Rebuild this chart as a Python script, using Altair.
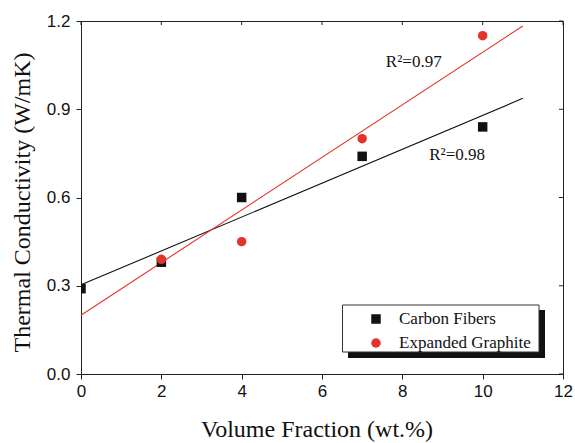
import altair as alt
import pandas as pd

# ---- data ----
cf_x = [0, 2, 4, 7, 10]
cf_y = [0.29, 0.38, 0.60, 0.74, 0.84]
eg_x = [2, 4, 7, 10]
eg_y = [0.39, 0.45, 0.80, 1.15]

fit_x = [0, 11]
fit_cf = [0.303, 0.937]
fit_eg = [0.200, 1.183]

series = ["Carbon Fibers", "Expanded Graphite"]
colors = ["#111111", "#e3342b"]
shapes = ["square", "circle"]

ann_text = ["R\u00b2=0.97", "R\u00b2=0.98"]
ann_x = [7.59, 8.67]
ann_y = [1.045, 0.727]

x_ticks = [0, 2, 4, 6, 8, 10, 12]
y_ticks = [0.0, 0.3, 0.6, 0.9, 1.2]

W, H = 482, 353
SERIF = "Liberation Serif"
SANS = "Liberation Sans"

pts = pd.DataFrame(
    {"x": cf_x + eg_x, "y": cf_y + eg_y,
     "s": [series[0]] * len(cf_x) + [series[1]] * len(eg_x)}
)
fits = pd.DataFrame(
    {"x": fit_x + fit_x, "y": fit_cf + fit_eg,
     "s": [series[0]] * 2 + [series[1]] * 2}
)
ann = pd.DataFrame({"t": ann_text, "x": ann_x, "y": ann_y})
xt = pd.DataFrame({"x": x_ticks})
yt = pd.DataFrame({"y": y_ticks})

X = alt.X(
    "x:Q",
    scale=alt.Scale(domain=[0, 12], nice=False, zero=False),
    axis=alt.Axis(
        values=x_ticks, title="Volume Fraction (wt.%)", grid=False,
        tickSize=5, labelPadding=4, labelFont=SANS, labelFontSize=17,
        labelColor="#111", titleFont=SERIF, titleFontSize=24,
        titleFontWeight="normal", titleColor="#111",
        titleX=235.5, titleY=62, titleBaseline="alphabetic",
        domainColor="#222", tickColor="#222", labelFlush=False,
    ),
)
Y = alt.Y(
    "y:Q",
    scale=alt.Scale(domain=[0, 1.2], nice=False, zero=False),
    axis=alt.Axis(
        values=y_ticks, format=".1f", title="Thermal Conductivity (W/mK)",
        grid=False, tickSize=5, labelPadding=6, labelFont=SANS,
        labelFontSize=17, labelColor="#111", titleFont=SERIF,
        titleFontSize=24, titleFontWeight="normal", titleColor="#111",
        titleX=-52, titleY=181, titleBaseline="alphabetic",
        domainColor="#222", tickColor="#222", labelFlush=False,
    ),
)

leg = alt.Legend(
    orient="none", legendX=286.5, legendY=289.5, padding=0, title=None,
    labelFont=SERIF, labelFontSize=17, labelColor="#111",
    labelOffset=14.5, rowPadding=6, symbolSize=90, symbolStrokeWidth=0,
    zindex=5,
)
color = alt.Color("s:N", scale=alt.Scale(domain=series, range=colors), legend=leg)
shape = alt.Shape("s:N", scale=alt.Scale(domain=series, range=shapes), legend=leg)

one = alt.Data(values=[{"a": 1}])

shadow = alt.Chart(one).mark_rect(color="#111").encode(
    x=alt.value(267), x2=alt.value(464), y=alt.value(289), y2=alt.value(337)
)
box = alt.Chart(one).mark_rect(fill="white", stroke="#333", strokeWidth=1).encode(
    x=alt.value(261.5), x2=alt.value(458), y=alt.value(284), y2=alt.value(331)
)

lines = alt.Chart(fits).mark_line(strokeWidth=1.1).encode(
    x=X, y=Y, color=color, detail="s:N",
)

points = alt.Chart(pts).mark_point(filled=True, opacity=1, size=90, clip=True).encode(
    x=X, y=Y, color=color, shape=shape
)

texts = alt.Chart(ann).mark_text(
    align="left", baseline="alphabetic", font=SERIF, fontSize=17, color="#111"
).encode(x=X, y=Y, text="t:N")

top_ticks = alt.Chart(xt).mark_rule(color="#222", strokeWidth=1).encode(
    x=X, y=alt.value(0), y2=alt.value(4)
)
right_ticks = alt.Chart(yt).mark_rule(color="#222", strokeWidth=1).encode(
    y=Y, x=alt.value(W - 4), x2=alt.value(W)
)

chart = (
    alt.layer(shadow, box, lines, points, texts, top_ticks, right_ticks)
    .resolve_scale(color="shared", shape="shared")
    .properties(
        width=W, height=H,
        autosize=alt.AutoSizeParams(type="none"),
        padding={"left": 81, "top": 21, "right": 12, "bottom": 69},
        background="white",
    )
    .configure_view(stroke="#222", strokeWidth=1)
)

chart.save("out.html", embed_options={"renderer": "svg", "actions": False})
